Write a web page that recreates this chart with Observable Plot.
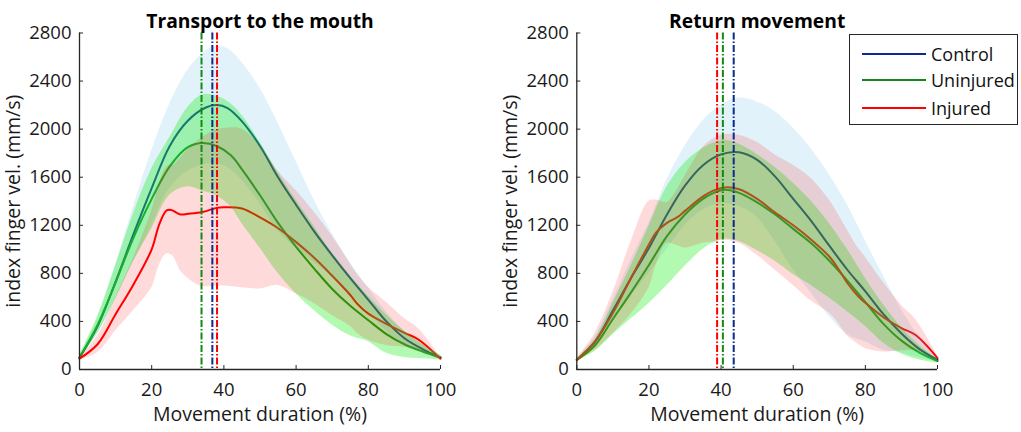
<!DOCTYPE html>
<html><head><meta charset="utf-8">
<script src="https://cdn.jsdelivr.net/npm/d3@7"></script>
<script src="https://cdn.jsdelivr.net/npm/@observablehq/plot@0.6"></script>
<style>
body{margin:0;background:#fff;font-family:"Open Sans",sans-serif;}
#wrap{position:relative;width:1021px;height:432px;display:flex;}
#wrap svg{overflow:visible;}
#legend{position:absolute;left:849px;top:34px;width:169px;height:91px;border:1.3px solid #262626;background:#fff;box-sizing:border-box;font-family:"Open Sans",sans-serif;font-size:18px;color:#111;}
.row{position:absolute;left:0;height:20px;}
.sw{position:absolute;left:12px;width:64px;height:2px;}
.lb{position:absolute;left:81px;white-space:nowrap;line-height:20px;}
</style></head><body>
<div id="wrap"><div id="legend"></div></div>
<script>
// ---------- shared ----------
const seriesNames = ["Control", "Uninjured", "Injured"];
const lineColors = ["#0d2a8c", "#138a13", "#ff0000"];
const fillColors = ["#69bee6", "#00ee00", "#ff0000"];
const fillOpac = [0.2, 0.3, 0.145];
const yTicks = [0, 400, 800, 1200, 1600, 2000, 2400, 2800];
const xTicks = [0, 20, 40, 60, 80, 100];
const titles = ["Transport to the mouth", "Return movement"];
const xLabel = "Movement duration (%)";
const yLabel = "index finger vel. (mm/s)";

// ---------- Transport to the mouth ----------
const tCtrlX = [0,5,10,15,20,25,30,35,38,41,45,50,55,60,65,70,75,80,85,90,95,100];
const tCtrlMean = [100,360,730,1130,1510,1860,2070,2180,2200,2175,2065,1860,1600,1370,1150,950,760,580,400,260,170,100];
const tCtrlHi = [110,420,870,1360,1820,2210,2490,2650,2690,2670,2555,2340,2050,1730,1410,1130,890,680,480,320,205,110];
const tCtrlLo = [90,300,590,900,1200,1510,1650,1710,1710,1680,1575,1380,1150,1010,890,770,630,480,320,200,135,90];

const tUninX = [0,5,10,15,20,25,30,34,38,42,45,50,55,60,65,70,75,80,85,90,95,100];
const tUninMean = [100,370,725,1100,1420,1690,1850,1885,1860,1780,1665,1450,1220,1020,840,670,530,410,295,210,150,100];
const tUninHi = [115,440,865,1300,1670,1930,2180,2285,2275,2210,2115,1890,1640,1410,1190,970,780,610,455,320,210,120];
const tUninLo = [85,300,585,900,1170,1450,1520,1485,1445,1350,1215,1010,800,630,490,370,280,230,135,100,90,80];

const tInjX = [0,5,10,15,20,22,24,25,26,28,30,34,38,40,45,50,55,60,65,70,75,77,80,85,90,93,95,100];
const tInjMean = [90,210,460,710,1000,1200,1320,1330,1320,1290,1295,1310,1345,1350,1340,1265,1175,1060,930,780,620,545,465,380,305,265,225,90];
const tInjHi = [100,280,600,930,1320,1540,1680,1700,1700,1760,1830,1930,1995,2005,2000,1860,1650,1490,1310,1110,880,790,685,560,425,365,305,100];
const tInjLo = [80,140,320,490,680,860,960,960,940,820,760,690,695,695,680,670,700,630,550,450,360,300,245,200,185,165,145,80];

const tPeaks = [36.8, 33.8, 38.1];

// ---------- Return movement ----------
const rCtrlX = [0,5,10,15,20,25,30,35,40,45,50,55,60,65,70,75,80,85,90,95,100];
const rCtrlMean = [80,230,490,760,1010,1290,1530,1700,1790,1808,1745,1605,1420,1235,1030,830,650,460,300,170,80];
const rCtrlHi = [90,270,580,910,1220,1580,1860,2070,2200,2258,2225,2145,2010,1835,1620,1370,1070,780,500,270,95];
const rCtrlLo = [70,190,400,610,800,1000,1200,1330,1380,1358,1265,1065,830,635,440,290,230,160,140,95,65];

const rUninX = [0,5,10,15,20,25,30,35,38,41,45,50,55,60,65,70,75,80,85,90,95,100];
const rUninMean = [80,200,420,640,870,1110,1290,1420,1470,1495,1470,1390,1290,1170,1050,905,740,560,380,240,140,70];
const rUninHi = [90,250,550,860,1190,1520,1720,1840,1885,1905,1875,1790,1680,1550,1400,1215,1000,760,540,350,200,85];
const rUninLo = [70,150,290,420,550,700,860,1000,1055,1085,1065,990,900,790,700,595,480,360,220,130,80,55];

const rInjX = [0,5,10,15,20,22,25,28,30,35,38,41,45,50,55,60,65,70,73,75,78,80,85,90,94,100];
const rInjMean = [80,230,470,760,1040,1140,1220,1270,1320,1440,1490,1515,1500,1420,1305,1200,1080,940,815,720,610,555,435,345,285,95];
const rInjHi = [90,300,640,1060,1400,1410,1390,1505,1610,1850,1920,1955,1950,1890,1785,1700,1590,1410,1265,1160,1010,935,725,535,415,115];
const rInjLo = [70,160,300,460,680,870,1050,1030,1010,1050,1060,1075,1050,950,825,700,570,470,365,280,210,175,145,155,155,75];

const rPeaks = [43.5, 40.5, 38.9];

function rows(x, mean, lo, hi) {
  return x.map((v, i) => ({x: v, mean: mean[i], lo: lo[i], hi: hi[i]}));
}

function panel({title, sets, peaks, width, marginLeft, marginRight}) {
  const font = "Open Sans, sans-serif";
  const marks = [];
  sets.forEach((d, i) => marks.push(Plot.lineY(d, {x: "x", y: "mean", stroke: lineColors[i], strokeWidth: 2, curve: "catmull-rom"})));
  sets.forEach((d, i) => marks.push(Plot.areaY(d, {x: "x", y1: "lo", y2: "hi", fill: fillColors[i], fillOpacity: fillOpac[i], curve: "catmull-rom"})));
  peaks.forEach((p, i) => marks.push(Plot.ruleX([p], {stroke: lineColors[i], strokeWidth: 2, strokeDasharray: "7,2,1.5,2"})));
  marks.push(Plot.ruleX([0], {stroke: "#262626", strokeWidth: 1.3}));
  marks.push(Plot.ruleY([0], {stroke: "#262626", strokeWidth: 1.3}));
  marks.push(Plot.axisY({ticks: yTicks, tickSize: 4, dx: 4, tickFormat: () => "", stroke: "#262626", label: null}));
  marks.push(Plot.axisX({ticks: xTicks, tickSize: 4, dy: -4, tickFormat: () => "", stroke: "#262626", label: null}));
  marks.push(Plot.axisY({ticks: yTicks, tickSize: 0, tickPadding: 8, tickFormat: d => String(d), fontSize: 18.5, fill: "#1a1a1a", label: null}));
  marks.push(Plot.axisX({ticks: xTicks, tickSize: 0, tickPadding: 13, tickFormat: d => String(d), fontSize: 18.5, fill: "#1a1a1a", label: null}));
  marks.push(Plot.text([title], {frameAnchor: "top", dy: -19, fontSize: 19.3, fontWeight: "bold", fill: "#000"}));
  marks.push(Plot.text([xLabel], {frameAnchor: "bottom", dy: 51, fontSize: 19.5, fill: "#1a1a1a"}));
  marks.push(Plot.text([yLabel], {frameAnchor: "left", dx: -66, rotate: -90, textAnchor: "middle", fontSize: 19.5, fill: "#1a1a1a"}));
  return Plot.plot({
    width, height: 432,
    marginLeft, marginRight, marginTop: 32.5, marginBottom: 63,
    style: {fontFamily: font, background: "transparent", overflow: "visible"},
    x: {domain: [0, 100]},
    y: {domain: [0, 2800]},
    marks
  });
}

const wrap = document.getElementById("wrap");
const left = panel({
  title: titles[0],
  sets: [rows(tCtrlX, tCtrlMean, tCtrlLo, tCtrlHi), rows(tUninX, tUninMean, tUninLo, tUninHi), rows(tInjX, tInjMean, tInjLo, tInjHi)],
  peaks: tPeaks, width: 500, marginLeft: 79, marginRight: 60
});
const right = panel({
  title: titles[1],
  sets: [rows(rCtrlX, rCtrlMean, rCtrlLo, rCtrlHi), rows(rUninX, rUninMean, rUninLo, rUninHi), rows(rInjX, rInjMean, rInjLo, rInjHi)],
  peaks: rPeaks, width: 521, marginLeft: 76.3, marginRight: 84
});
wrap.insertBefore(left, wrap.firstChild);
wrap.insertBefore(right, document.getElementById("legend"));

const legend = document.getElementById("legend");
const rowTops = [8.5, 35, 63];
seriesNames.forEach((n, i) => {
  const r = document.createElement("div");
  r.className = "row"; r.style.top = rowTops[i] + "px"; r.style.width = "100%";
  r.innerHTML = `<div class="sw" style="top:9px;background:${lineColors[i]}"></div><div class="lb">${n}</div>`;
  legend.appendChild(r);
});
</script>
</body></html>
